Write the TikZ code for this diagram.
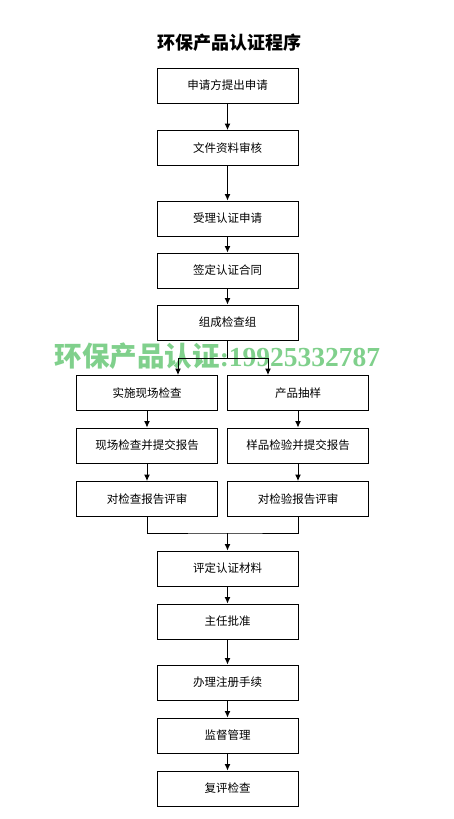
\documentclass[tikz,border=0pt]{standalone}
\usepackage{fontspec}
\setmainfont{Noto Sans CJK SC}
\newfontfamily\digitfont{Liberation Serif}
\usetikzlibrary{arrows.meta}
\definecolor{markgreen}{RGB}{128,208,140}

\tikzset{
  stepbox/.style={draw,line width=1pt,minimum width=141pt,minimum height=35pt,
    inner sep=0pt,font=\fontsize{11.5}{12}\selectfont},
  sidebox/.style={stepbox,minimum width=141pt},
  flow/.style={-{Latex[length=6.5pt,width=6pt]},line width=1pt},
  link/.style={line width=1pt}
}

\begin{document}
\begin{tikzpicture}[x=1pt,y=-1pt]
  \useasboundingbox (0,0) rectangle (453,819);

  %title
  \node[font=\fontsize{18}{20}\selectfont\bfseries] (title) at (229,43) {环保产品认证程序};

  %watermark (under the lines)
  \node[text=markgreen,inner sep=0pt,font=\fontsize{27.5}{29}\selectfont\bfseries] (mark) at (217.5,356)
    {环保产品认证{\digitfont :19925332787}};

  %main steps
  \node[stepbox] (apply)    at (227.5,85.5)  {申请方提出申请};
  \node[stepbox] (docs)     at (227.5,148)   {文件资料审核};
  \node[stepbox] (accept)   at (227.5,218.5) {受理认证申请};
  \node[stepbox] (contract) at (227.5,270.5) {签定认证合同};
  \node[stepbox] (team)     at (227.5,322.5) {组成检查组};

  %two branches
  \node[sidebox] (site)     at (147,393)   {实施现场检查};
  \node[sidebox] (siterep)  at (147,445.5) {现场检查并提交报告};
  \node[sidebox] (sitechk)  at (147,499)   {对检查报告评审};
  \node[sidebox] (sample)   at (298,393)   {产品抽样};
  \node[sidebox] (samprep)  at (298,445.5) {样品检验并提交报告};
  \node[sidebox] (sampchk)  at (298,499)   {对检验报告评审};

  %final steps
  \node[stepbox] (assess)   at (227.5,568.5) {评定认证材料};
  \node[stepbox] (approve)  at (227.5,621.5) {主任批准};
  \node[stepbox] (register) at (227.5,682.5) {办理注册手续};
  \node[stepbox] (watch)    at (227.5,735.5) {监督管理};
  \node[stepbox] (review)   at (227.5,788.5) {复评检查};

  %connectors
  \draw[flow] (apply) -- (docs);
  \draw[flow] (docs) -- (accept);
  \draw[flow] (accept) -- (contract);
  \draw[flow] (contract) -- (team);

  \coordinate (fork)  at (227.5,358);
  \coordinate (forkL) at (178,358);
  \coordinate (forkR) at (268,358);
  \draw[link] (team.south) -- (fork);
  \draw[flow] (fork) -- (forkL) -- (forkL |- site.north);
  \draw[flow] (fork) -- (forkR) -- (forkR |- sample.north);

  \draw[flow] (site) -- (siterep);
  \draw[flow] (siterep) -- (sitechk);
  \draw[flow] (sample) -- (samprep);
  \draw[flow] (samprep) -- (sampchk);

  \coordinate (join) at (227.5,533);
  \draw[link] (sitechk.south) |- (join) -| (sampchk.south);
  \draw[flow] (join) -- (assess);

  \draw[flow] (assess) -- (approve);
  \draw[flow] (approve) -- (register);
  \draw[flow] (register) -- (watch);
  \draw[flow] (watch) -- (review);
\end{tikzpicture}
\end{document}
